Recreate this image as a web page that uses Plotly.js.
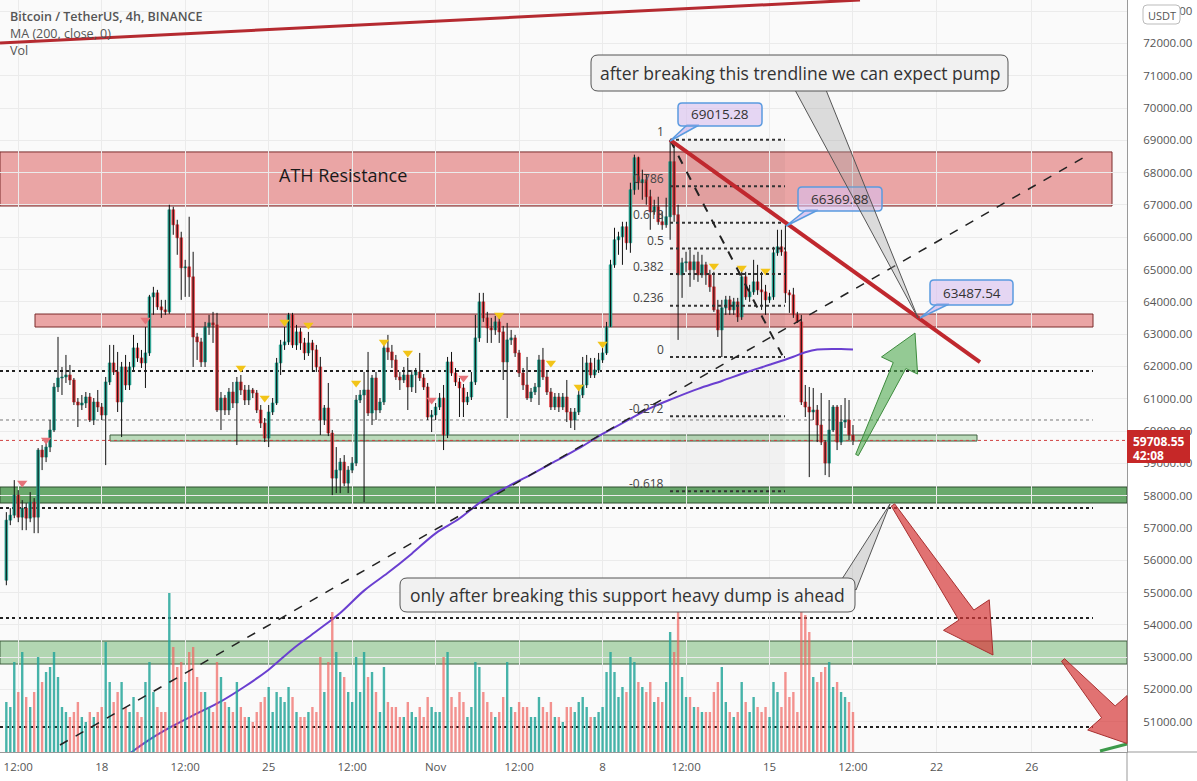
<!DOCTYPE html>
<html><head><meta charset="utf-8">
<script src="https://cdn.plot.ly/plotly-3.0.1.min.js"></script>
<style>html,body{margin:0;padding:0;background:#fff}</style></head>
<body><div id="chart" style="width:1197px;height:781px"></div>
<script>
// ---------------- DATA (BTC/USDT 4h) ----------------
const open = [55380,57240,57395,58015,57333,57612,57302,57798,57333,59410,
59193,59503,60030,61363,61642,61673,61735,61580,60898,60805,
60867,61053,60340,60898,60743,60495,61518,62107,61828,60898,
61983,61425,61983,62572,62262,62107,62417,64153,64277,63843,
63750,63688,66850,66385,65982,65052,65083,64773,62913,62758,
62138,63223,63347,63285,60650,61022,60650,61208,60867,61518,
61270,60960,61270,61177,60650,60247,59782,60588,60867,62107,
62665,62758,63595,62665,63068,62727,62417,62727,62510,61983,
60340,60712,59937,58542,58790,59038,58387,58790,59007,60960,
61115,61270,60557,61642,60650,60898,62572,62448,62200,61673,
61580,61735,61363,61735,61828,61642,61363,60433,60495,60743,
61022,59875,62138,61797,61518,61332,60898,61053,61518,62882,
63998,63502,63192,63130,63378,63068,62138,62820,62882,62417,
61797,61425,61022,61208,61363,62200,61673,61208,60743,61053,
60743,61053,60588,60340,60588,61115,61425,62107,61735,61890,
62200,62417,63223,65145,65920,66013,66323,65827,67470,68462,
67687,67780,67253,66788,66943,66478,66385,66633,68338,66695,
64835,65207,65238,64990,65238,64835,65145,64835,64463,63750,
63130,63812,64060,63750,63998,63533,64773,64153,64308,64618,
64370,64308,64060,64153,65517,65703,65548,64277,64215,63595,
63378,60898,60743,60588,60650,60185,59658,59007,60030,60743,
59658,60278,60340,59875];
const high = [57488,57612,58480,58170,57860,57767,58108,57922,59472,59565,
59658,60340,61487,62913,61983,62355,62045,61642,61022,61115,
61208,61177,61022,61270,60867,61673,62665,62665,62448,62138,
62355,62138,62975,62727,62510,63223,64215,64463,64370,64060,
64060,67005,66943,66540,66168,65300,66633,65548,63037,62882,
63378,63595,63688,63657,61208,61115,61332,61518,61673,61735,
61425,61425,61332,61270,60805,60402,60805,61022,62262,62820,
63223,63657,63657,63285,63192,62882,63068,62820,62665,62293,
60805,61487,60030,59503,59162,59255,58914,59193,61115,61270,
61828,62448,61735,61828,61022,62665,62975,62665,62355,61828,
61983,62262,61890,61952,62417,61766,61487,60650,60867,61177,
61425,62293,62448,61952,61642,61456,61208,61828,63595,64277,
64277,63688,63502,63564,63502,63254,63347,63130,62975,62510,
61952,62293,61332,61487,62355,62572,61828,61332,61177,61177,
61177,61580,60712,60712,61270,62293,62355,62262,62262,62417,
62572,63378,65300,66292,66168,66478,66478,67687,68555,68493,
68090,67935,67470,67160,67253,66788,67222,69015.28,68865,67005,
65362,65548,65610,65455,65548,65455,65238,64990,64928,64060,
64060,64184,64184,64122,64122,64990,64928,64525,65300,65145,
64928,64525,64277,65703,66230,66230,66369.88,64370,64432,63688,
63595,61425,61363,61332,60805,61177,59720,60960,60805,60805,
60805,61022,60960,60185];
const low = [55225,57085,57302,57178,56930,56930,57178,56837,56837,58790,
59038,59348,59968,61208,61115,61487,61425,60805,60123,60650,
60712,60278,60185,60588,60340,58945,61425,61735,60588,59813,
61270,61270,61890,62138,61952,61332,62324,63595,63750,63502,
63595,63626,66075,65455,64060,64153,64153,61983,62200,61983,
61983,62975,62727,60588,60030,60495,60495,60712,59565,61115,
60805,60805,61022,60557,60092,59658,59503,60495,60805,61735,
62510,62665,62572,62510,62510,62200,62324,61828,61828,59875,
60185,59844,58015,58077,58077,58294,58077,58697,58914,60867,
57798,60464,60185,60340,60557,60805,62200,61952,61580,61270,
61487,60650,61208,61177,61549,61270,60340,59968,60340,60650,
59410,59782,61704,61394,60433,60433,60805,60960,61425,62758,
63378,62727,62727,62975,62727,61580,60402,62665,62293,61673,
61270,60960,60898,61115,60805,61580,61115,60650,60650,60588,
60650,60278,60092,60030,60495,61022,61332,61642,61642,61797,
62107,62355,63223,65052,65455,65145,65610,65517,67315,67470,
67160,67005,66230,66695,66385,66230,66292,65920,66478,62820,
64122,64928,64463,64680,64618,64742,64525,64308,63688,62913,
62290,63595,63595,63595,63378,63440,64060,63998,64215,64215,
63750,63595,63967,64060,65424,65424,63967,63657,63502,63347,
60805,60433,58573,60340,59658,59565,58635,58573,59968,59410,
59565,60092,59720,59565];
const close = [57240,57395,58015,57333,57612,57302,57798,57333,59410,59193,
59503,60030,61363,61642,61673,61735,61580,60898,60805,60867,
61053,60340,60898,60743,60495,61518,62107,61828,60898,61983,
61425,61983,62572,62262,62107,62417,64153,64277,63843,63750,
63688,66850,66385,65982,65052,65083,64773,62913,62758,62138,
63223,63347,63285,60650,61022,60650,61208,60867,61518,61270,
60960,61270,61177,60650,60247,59782,60588,60867,62107,62665,
62758,63595,62665,63068,62727,62417,62727,62510,61983,60340,
60712,59937,58542,58790,59038,58387,58790,59007,60960,61115,
61270,60557,61642,60650,60898,62572,62448,62200,61673,61580,
61735,61363,61735,61828,61642,61363,60433,60495,60743,61022,
59875,62138,61797,61518,61332,60898,61053,61518,62882,63998,
63502,63192,63130,63378,63068,62138,62820,62882,62417,61797,
61425,61022,61208,61363,62200,61673,61208,60743,61053,60743,
61053,60588,60340,60588,61115,61425,62107,61735,61890,62200,
62417,63223,65145,65920,66013,66323,65827,67470,68462,67687,
67780,67253,66788,66943,66478,66385,66633,68338,66695,64835,
65207,65238,64990,65238,64835,65145,64835,64463,63750,63130,
63812,64060,63750,63998,63533,64773,64153,64308,64618,64370,
64308,64060,64153,65517,65703,65548,64277,64215,63595,63378,
60898,60743,60588,60650,60185,59658,59007,60030,60743,59658,
60278,60340,59875,59708.55];
// volume (BTC)
const volume = [5000,4500,9000,6000,10000,5500,4500,6000,9500,7000,
8000,8500,10000,7500,4500,4000,3500,4000,5000,3500,
3000,4000,3500,4000,4500,11000,7000,5000,6000,7000,
4500,4000,5500,4000,3500,7000,9000,6000,4500,4000,
4000,15900,10500,8500,9000,7000,10000,10500,7500,6000,
6000,4500,4000,9000,7500,5000,4500,4000,7000,4500,
3500,3500,3000,4000,5000,5500,6500,4000,6000,5500,
5000,6500,5500,4000,3500,3500,4000,4500,4000,9500,
6000,9000,14000,10000,8000,7500,6000,5000,9500,6000,
10000,7500,8000,6000,4000,8500,5000,4500,4500,3500,
3500,5000,4000,3500,4500,3500,5500,4500,4000,4000,
9500,10000,5500,4500,6000,5000,3500,4500,9000,8500,
6000,5000,4000,3500,4000,5500,9000,4500,4000,5000,
4500,4500,3500,3500,5500,4500,4000,5000,3500,3500,
3000,4500,4500,4000,5000,5500,4500,3500,3500,4000,
4500,8000,10000,8000,5500,6500,6000,9500,9000,7000,
6500,6000,7000,5000,5500,5000,7000,12000,10000,15700,
7500,5500,5500,4500,4500,4000,4000,4000,6000,7000,
8500,5000,4000,3500,4000,7000,5000,4000,5500,4500,
4000,4500,3500,7000,6000,4500,8000,5500,6000,4000,
15000,13700,12000,7500,7000,8000,8500,9000,6500,7000,
6000,5500,5000,4000];
// MA(200, close) read at daily points
const maDates = ['2021-10-18 12:00','2021-10-19','2021-10-20','2021-10-21','2021-10-22','2021-10-23','2021-10-24','2021-10-25','2021-10-26','2021-10-27','2021-10-28','2021-10-29','2021-10-30','2021-10-31','2021-11-01','2021-11-02','2021-11-03','2021-11-04','2021-11-05','2021-11-06','2021-11-07','2021-11-08','2021-11-09','2021-11-10','2021-11-11','2021-11-12','2021-11-13','2021-11-14','2021-11-15','2021-11-16','2021-11-16 12:00','2021-11-17','2021-11-18','2021-11-18 12:00'];
const maValues = [49700,49930,50445,50877,51255,51630,52090,52610,53245,53800,54367,55058,55610,56203,56832,57290,57858,58272,58650,59057,59460,59908,60310,60710,61020,61305,61550,61810,62050,62300,62440,62525,62540,62525];
// indicator markers (bar index, price)
const yellowIdx = [59,65,70,76,88,95,101,124,137,144,150,178,185,191];
const yellowPrice = [61950,61020,63375,63280,61490,62755,62415,63590,62105,61360,62690,65110,65045,64955];
const pinkIdx = [4,10,35,107,115];
const pinkPrice = [58390,59720,63437,60960,61640];
// fibonacci levels
const fibLevels = [1,0.786,0.618,0.5,0.382,0.236,0,-0.272,-0.618];
const fibHigh = 69015.28, fibLow = 62290;
// axis ticks
const xTickVals = ['2021-10-14 12:00','2021-10-18','2021-10-21 12:00','2021-10-25','2021-10-28 12:00','2021-11-01','2021-11-04 12:00','2021-11-08','2021-11-11 12:00','2021-11-15','2021-11-18 12:00','2021-11-22','2021-11-26'];
const xTickText = ['12:00','18','12:00','25','12:00','Nov','12:00','8','12:00','15','12:00','22','26'];
const yTickVals = [51000,52000,53000,54000,55000,56000,57000,58000,59000,60000,61000,62000,63000,64000,65000,66000,67000,68000,69000,70000,71000,72000,73000];
const yTickText = yTickVals.map(v => v.toFixed(2));

// ---------------- build ----------------
const N = close.length;
const endT = Date.UTC(2021,10,18,12);
const dates = [];
for (let i = 0; i < N; i++) dates.push(new Date(endT - (N-1-i)*4*3600e3).toISOString().slice(0,16).replace('T',' '));

const W = 1127, H = 752;
const fx = x => x / W, fy = y => (H - y) / H;
const pt = p => fx(p[0]) + ',' + fy(p[1]);
const poly = pts => 'M' + pts.map(pt).join('L') + 'Z';
function rrect(x0,y0,x1,y1,r){
  return 'M'+pt([x0+r,y0])+'L'+pt([x1-r,y0])+'Q'+pt([x1,y0])+' '+pt([x1,y0+r])+'L'+pt([x1,y1-r])+'Q'+pt([x1,y1])+' '+pt([x1-r,y1])+
  'L'+pt([x0+r,y1])+'Q'+pt([x0,y1])+' '+pt([x0,y1-r])+'L'+pt([x0,y0+r])+'Q'+pt([x0,y0])+' '+pt([x0+r,y0])+'Z';
}
function arrowPts(x0,y0,x1,y1,tw,nw,hw,hl){
  const L = Math.hypot(x1-x0,y1-y0), dx=(x1-x0)/L, dy=(y1-y0)/L, nx=-dy, ny=dx;
  const bx = x1-dx*hl, by = y1-dy*hl;
  return [[x0+nx*tw/2,y0+ny*tw/2],[bx+nx*nw/2,by+ny*nw/2],[bx+nx*hw/2,by+ny*hw/2],[x1,y1],
          [bx-nx*hw/2,by-ny*hw/2],[bx-nx*nw/2,by-ny*nw/2],[x0-nx*tw/2,y0-ny*tw/2]];
}
function clipRight(pts, xm){
  const out=[];
  for (let i=0;i<pts.length;i++){
    const a=pts[i], b=pts[(i+1)%pts.length];
    const ain=a[0]<=xm, bin=b[0]<=xm;
    if (ain) out.push(a);
    if (ain!==bin){ const t=(xm-a[0])/(b[0]-a[0]); out.push([xm, a[1]+t*(b[1]-a[1])]); }
  }
  return out;
}

const UP = '#1f9e8c', DN = '#e0393e';
const wx = [], wy = [];
for (let i=0;i<N;i++){ wx.push(dates[i],dates[i],null); wy.push(low[i],high[i],null); }
const isUp = close.map((c,i) => c >= open[i]);
const bodyBase = close.map((c,i) => Math.min(c, open[i]));
const bodyLen = close.map((c,i) => Math.abs(c - open[i]));
const bodyColors = isUp.map(u => u ? UP : DN);
const volColors = isUp.map(u => u ? 'rgba(38,166,154,0.85)' : 'rgba(240,100,95,0.7)');
const BAR = 4*3600e3;

const traces = [
  {type:'bar', x:dates, y:volume, yaxis:'y2', marker:{color:volColors, line:{width:0}}, width:BAR*0.6, hoverinfo:'skip'},
  {type:'scatter', mode:'lines', x:wx, y:wy, line:{color:'#111', width:1}, hoverinfo:'skip', connectgaps:false},
  {type:'bar', x:dates, y:bodyLen, base:bodyBase, marker:{color:bodyColors, line:{color:bodyColors, width:0.6}}, width:BAR*0.7, hoverinfo:'skip'},
  {type:'scatter', mode:'lines', x:maDates, y:maValues, line:{color:'#6a3fd0', width:2, shape:'spline'}, hoverinfo:'skip'},
  {type:'scatter', mode:'markers', x:yellowIdx.map(i=>dates[i]), y:yellowPrice, marker:{symbol:'triangle-down', size:9, color:'#f2c418'}, hoverinfo:'skip'},
  {type:'scatter', mode:'markers', x:pinkIdx.map(i=>dates[i]), y:pinkPrice, marker:{symbol:'triangle-down', size:9, color:'#e5737a'}, hoverinfo:'skip'}
];

const shapes = [];
const ann = [];
const F = 'Open Sans, sans-serif';
function zone(x0,x1,p0,p1,fill,line){ shapes.push({type:'rect', xref:'paper', yref:'y', x0:fx(x0), x1:fx(x1), y0:p0, y1:p1, fillcolor:fill, line:{color:line, width:1}, layer:'between'}); }
function hline(x0,x1,p,color,width,dash,layer){ shapes.push({type:'line', xref:'paper', yref:'y', x0:fx(x0), x1:fx(x1), y0:p, y1:p, line:{color:color, width:width, dash:dash}, layer:layer||'between'}); }
function pline(x0,p0,x1,p1,color,width,dash){ shapes.push({type:'line', xref:'paper', yref:'y', x0:fx(x0), x1:fx(x1), y0:p0, y1:p1, line:{color:color, width:width, dash:dash}, layer:'above'}); }
function path(d,fill,line,lw){ shapes.push({type:'path', xref:'paper', yref:'paper', path:d, fillcolor:fill, line:{color:line, width:lw===undefined?1:lw}, layer:'above'}); }
function text(x,y,t,size,color,opts){ ann.push(Object.assign({xref:'paper', yref:'paper', x:fx(x), y:fy(y), text:t, showarrow:false, font:{family:F, size:size, color:color}, xanchor:'center', yanchor:'middle'}, opts||{})); }

// zones
zone(0,1112,66966,68640,'rgba(217,80,80,0.5)','#7a2b2b');
zone(35,1093,63220,63622,'rgba(217,80,80,0.5)','#7a2b2b');
zone(110,977,59690,59876,'rgba(90,170,90,0.4)','#3f5f3f');
zone(0,1127,57771,58266,'rgba(56,142,60,0.75)','#2f4f2f');
zone(0,1127,52786,53498,'rgba(90,170,90,0.45)','#3f5f3f');
// fib background
shapes.push({type:'rect', xref:'paper', yref:'y', x0:fx(670), x1:fx(785), y0:fibLow+(-0.618)*(fibHigh-fibLow), y1:fibHigh, fillcolor:'rgba(0,0,0,0.035)', line:{width:0}, layer:'between'});
// dotted horizontal levels
hline(0,1093,61858,'#222',2,'dot');
hline(0,1093,57616,'#222',2,'dot');
hline(0,1093,54210,'#222',2,'dot');
hline(0,1093,50836,'#222',2,'dot');
hline(0,1093,60341,'#777',1,'dot');
hline(0,1127,59708.55,'#d04040',1,'dot');
// fib levels
fibLevels.forEach(l => {
  const p = fibLow + l*(fibHigh-fibLow);
  hline(670,785,p,'#333',2,'dot','above');
  ann.push({xref:'paper', yref:'y', x:fx(666), y:p, yshift:8, text:String(l), showarrow:false, xanchor:'right', yanchor:'middle', font:{family:F, size:12, color:'#444'}});
});
// fib diagonal
pline(670,fibHigh,783,62300,'#222',2,'dash');
// long dashed trend
pline(60,50279,1088,68545,'#222',1.5,'dash');
// red trendline
pline(670,69015,980,62136,'#c0282e',4,'solid');
// top red line
shapes.push({type:'line', xref:'paper', yref:'paper', x0:fx(0), y0:fy(43), x1:fx(860), y1:fy(0), line:{color:'#b52a30', width:3}, layer:'above'});
// green small line bottom right
shapes.push({type:'line', xref:'paper', yref:'paper', x0:fx(1100), y0:fy(751), x1:fx(1127), y1:fy(744), line:{color:'#3c9a4a', width:3}, layer:'above'});

// arrows
path(poly(arrowPts(857,455,915,333,3,14,40,36)),'rgba(80,170,80,0.6)','#3d8b3d',1);
path(poly(arrowPts(893,505,993,655,4,18,55,48)),'rgba(214,55,55,0.7)','#a83030',1);
path(poly(clipRight(arrowPts(1063,660,1140,748,4,18,55,48),1127)),'rgba(214,55,55,0.7)','#a83030',1);

// price callouts
function priceCallout(x0,y0,x1,y1,tail,label){
  path(poly(tail),'rgba(200,170,235,0.6)','#5a9be0',1.5);
  path(rrect(x0,y0,x1,y1,4),'rgba(215,190,238,0.6)','#5a9be0',1.5);
  text((x0+x1)/2,(y0+y1)/2,label,13.5,'#333');
}
priceCallout(678,103,762,126,[[687,125],[699,125],[670,141]],'69015.28');
priceCallout(798,187,882,211,[[806,210],[818,210],[786,226]],'66369.88');
priceCallout(930,280,1013,305,[[937,304],[949,304],[920,318]],'63487.54');

// big callouts
path(poly([[795,90],[918,318],[826,90]]),'rgba(160,160,160,0.35)','#555',1);
path(rrect(591,55,1008,91,7),'#f1f1f1','#555',1);
text(800,73,'after breaking this trendline we can expect pump',17.5,'#333');
path(poly([[842,579],[890,504],[856,590]]),'rgba(160,160,160,0.35)','#555',1);
path(rrect(400,578,855,612,7),'#f1f1f1','#555',1);
text(627,595,'only after breaking this support heavy dump is ahead',17.5,'#333');

// texts
text(343,175,'ATH Resistance',18,'#1a1a1a');
text(8,16,'Bitcoin / TetherUS, 4h, BINANCE',12.5,'#555',{xanchor:'left', font:{family:F, size:12.5, color:'#555', weight:600}});
text(8,33,'MA (200, close, 0)',12.5,'#555',{xanchor:'left'});
text(8,50,'Vol',12.5,'#555',{xanchor:'left'});

// right axis price tag
shapes.push({type:'rect', xref:'paper', yref:'paper', x0:1, x1:fx(1190), y0:fy(463), y1:fy(430), fillcolor:'#c62828', line:{width:0}, layer:'above'});
text(1131,441,'<b>59708.55</b>',12,'#fff',{xanchor:'left'});
text(1131,455,'<b>42:08</b>',12,'#fff',{xanchor:'left'});
// USDT badge
path(rrect(1143,5,1180,24,4),'#ffffff','#bbbbbb',1);
text(1161.5,15,'USDT',11,'#555');
// axis extension lines
shapes.push({type:'line', xref:'paper', yref:'paper', x0:1, x1:fx(1197), y0:0, y1:0, line:{color:'#999', width:1}, layer:'above'});
shapes.push({type:'line', xref:'paper', yref:'paper', x0:1, x1:1, y0:fy(781), y1:0, line:{color:'#999', width:1}, layer:'above'});

const layout = {
  width:1197, height:781, margin:{l:0, r:70, t:0, b:29},
  paper_bgcolor:'#ffffff', plot_bgcolor:'#fafafa', showlegend:false, barmode:'overlay',
  font:{family:F, size:11.5, color:'#555'},
  xaxis:{type:'date', range:['2021-10-13 17:38','2021-11-29 23:44'], tickvals:xTickVals, ticktext:xTickText,
    showgrid:true, gridcolor:'#ebebeb', zeroline:false, showline:true, linecolor:'#999', ticks:'', ticklabelstandoff:4,
    tickfont:{family:F, size:11.5, color:'#555'}, fixedrange:true},
  yaxis:{range:[50062,73344], side:'right', tickvals:yTickVals, ticktext:yTickText, showgrid:true, gridcolor:'#ebebeb',
    zeroline:false, showline:true, linecolor:'#999', ticks:'', ticklabelstandoff:13, tickfont:{family:F, size:11.5, color:'#555'}, fixedrange:true},
  yaxis2:{overlaying:'y', range:[0,75200], visible:false, fixedrange:true},
  shapes:shapes, annotations:ann
};
Plotly.newPlot('chart', traces, layout, {staticPlot:true});
</script></body></html>
